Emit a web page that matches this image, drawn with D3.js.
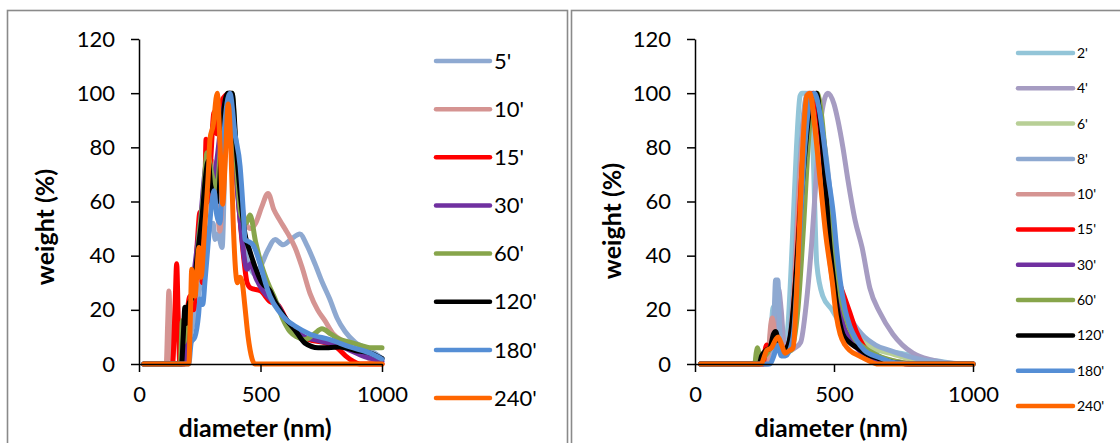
<!DOCTYPE html>
<html>
<head>
<meta charset="utf-8">
<script src="https://cdn.jsdelivr.net/npm/d3@7"></script>
<style>
  body { margin: 0; background: #fff; }
  svg { display: block; font-family: Lato, "Open Sans", sans-serif; }
</style>
</head>
<body>
<svg id="chart" width="1120" height="443"></svg>
<script>
// ---- data: diameter (nm), weight (%) ----
const leftSeries = ["5'", "10'", "15'", "30'", "60'", "120'", "180'", "240'"];
const leftColors = ["#8EA9D1", "#D59492", "#FF0000", "#7030A0", "#87A54B", "#000000", "#558ED5", "#FF6600"];

const l5 = [[20,0],[190,0],[210,10],[230,18],[250,28],[270,35],[290,50],[305,52],[313,46],[325,48],[342,43],[355,80],[366,100],[380,90],[400,70],[420,50],[440,40],[460,35],[477,33],[500,36],[530,42],[560,46],[593,44],[625,46],[662,48],[690,44],[724,37],[755,30],[785,24],[815,17],[848,12],[890,8],[930,6],[970,4],[1000,2]];
const l10 = [[20,0],[112,0],[118,15],[123,27],[130,10],[136,0],[185,0],[200,10],[215,20],[235,35],[260,55],[285,70],[300,75],[320,60],[333,49],[350,80],[374,100],[395,80],[420,60],[440,52],[457,50],[480,52],[505,58],[531,63],[555,57],[580,53],[600,50],[620,47],[642,43],[670,36],[704,26],[735,20],[765,16],[800,11],[848,8],[890,5],[930,3],[965,1],[1000,0]];
const l15 = [[20,0],[138,0],[148,20],[155,37],[162,15],[168,0],[185,0],[195,15],[210,25],[225,20],[240,45],[251,56],[260,30],[270,55],[276,83],[285,60],[295,75],[309,93],[320,85],[330,90],[345,98],[374,100],[390,85],[410,60],[430,40],[445,30],[460,28],[500,27],[540,23],[570,22],[609,16],[650,12],[700,9],[760,8],[815,6],[850,3],[881,1],[909,0],[1000,0]];
const l30 = [[20,0],[185,0],[200,15],[215,25],[235,40],[255,55],[270,70],[285,78],[300,65],[320,75],[340,90],[370,100],[385,95],[400,70],[420,50],[435,38],[445,35],[460,37],[480,32],[510,27],[540,24],[570,22],[600,17],[640,13],[680,10],[720,9],[770,8],[820,7],[870,5],[920,3],[960,2],[1000,1]];
const l60 = [[20,0],[170,0],[175,10],[178,16],[185,8],[195,15],[210,22],[230,30],[250,50],[265,62],[280,78],[290,75],[300,70],[320,65],[340,85],[360,96],[383,100],[400,75],[420,55],[440,52],[457,55],[480,45],[506,36],[530,30],[560,24],[590,17],[621,12],[650,10],[683,9],[720,11],[753,13],[790,11],[827,9],[870,8],[909,7],[950,6],[1000,6]];
const l120 = [[20,0],[175,0],[182,10],[189,21],[195,15],[205,22],[220,25],[240,40],[260,55],[275,70],[285,75],[295,66],[310,62],[325,60],[345,90],[365,100],[383,100],[400,80],[420,60],[436,48],[455,42],[477,36],[506,30],[539,27],[560,23],[580,20],[610,16],[642,12.5],[683,7.7],[737,6],[780,6],[827,6.3],[889,5],[951,4],[1000,2]];
const l180 = [[20,0],[205,0],[215,8],[230,10],[245,18],[251,24],[262,22],[272,31],[285,45],[300,60],[309,64],[320,55],[333,52],[350,85],[374,100],[395,85],[416,73],[430,55],[436,46],[455,45],[469,44],[498,37],[520,30],[539,25],[580,19],[610,16],[642,14],[704,11],[786,9],[868,6.3],[951,4],[1000,1.8]];
const l240 = [[20,0],[205,0],[212,20],[217,35],[230,25],[247,43],[255,32],[270,50],[285,70],[292,83],[305,88],[322,100],[334,80],[344,59],[355,75],[367,96],[378,80],[387,54],[398,34],[405,30],[416,32],[425,30],[435,22],[449,10],[465,2],[477,0],[1000,0]];

const rightSeries = ["2'", "4'", "6'", "8'", "10'", "15'", "30'", "60'", "120'", "180'", "240'"];
const rightColors = ["#93C5D8", "#A69CC2", "#B8CF96", "#8EA9D1", "#D59492", "#FF0000", "#7030A0", "#87A54B", "#000000", "#558ED5", "#FF6600"];

const r2 = [[20,0],[255,0],[265,5],[275,15],[281,21],[290,10],[300,6],[320,5],[335,15],[350,45],[365,80],[378,99],[385,100],[400,100],[412,95],[424,80],[438,37],[460,25],[493,20],[515,16],[540,12],[580,8],[630,5.5],[701,4.5],[763,3.5],[820,2],[880,1],[950,0],[1000,0]];
const r4 = [[20,0],[260,0],[275,5],[290,15],[300,28],[310,20],[320,8],[340,5],[360,6],[380,8],[400,22],[420,45],[438,72],[455,92],[478,100],[500,96],[514,90],[532,80],[550,68],[576,53],[601,43],[629,28],[665,19],[712,11],[784,4],[850,1.5],[920,0.3],[1000,0]];
const r6 = [[20,0],[250,0],[265,3],[285,8],[295,9],[310,6],[330,5],[350,10],[370,35],[390,70],[410,95],[425,100],[440,97],[460,82],[480,60],[500,42],[520,30],[545,20],[575,13],[610,8],[650,5.5],[700,4],[750,2.5],[820,1],[900,0],[1000,0]];
const r8 = [[20,0],[265,0],[275,8],[285,20],[290,31],[298,31],[305,12],[315,5],[330,5],[345,15],[360,40],[375,70],[390,92],[405,100],[420,100],[440,95],[460,85],[475,74],[493,56],[511,36],[530,25],[560,17],[600,11],[650,7],[700,5],[760,3],[820,1.5],[900,0.5],[1000,0]];
const r10 = [[20,0],[255,0],[265,5],[272,14],[278,17],[288,10],[300,6],[320,5],[340,8],[355,25],[375,65],[395,93],[410,100],[425,97],[445,80],[465,57],[485,38],[505,24],[530,14],[560,8],[600,5],[650,3],[720,1],[800,0],[1000,0]];
const r15 = [[20,0],[245,0],[252,5],[258,7],[265,5],[280,8],[290,10],[300,7],[315,5],[335,7],[350,15],[370,45],[390,80],[410,97],[425,100],[440,95],[460,77],[480,55],[500,40],[520,30],[540,24],[557,19],[580,12],[604,7],[650,3],[700,1],[780,0],[1000,0]];
const r30 = [[20,0],[235,0],[245,3],[258,5],[272,6],[284,10],[291,11],[300,7],[314,5],[332,6],[347,12],[367,35],[387,66],[407,89],[422,99],[436,100],[450,92],[468,70],[486,48],[504,30],[532,15],[568,8],[600,4],[640,2],[700,1],[780,0],[1000,0]];
const r60 = [[20,0],[215,0],[220,4],[225,6],[232,3],[240,2],[260,4],[280,8],[290,9],[300,6],[320,4],[345,5],[370,20],[390,50],[410,85],[425,99],[440,100],[455,92],[475,70],[495,48],[515,30],[540,18],[570,10],[610,6],[660,3],[720,1],[800,0],[1000,0]];
const r120 = [[20,0],[230,0],[240,3],[255,5],[270,6],[282,11],[290,12],[300,8],[312,5],[330,6],[345,12],[365,35],[385,65],[405,88],[420,99],[438,100],[450,90],[468,68],[486,43],[500,30],[511,21],[532,11],[555,8],[583,6],[620,3.5],[660,2],[720,0.5],[800,0],[1000,0]];
const r180 = [[20,0],[270,0],[280,2],[290,5],[298,7],[310,3],[325,3],[340,5],[355,12],[375,45],[395,80],[415,98],[430,100],[445,95],[460,85],[478,70],[497,56],[510,42],[522,31],[540,20],[557,14],[580,9],[610,5],[660,2.5],[720,0.5],[800,0],[1000,0]];
const r240 = [[20,0],[238,0],[250,3],[258,5],[275,6],[290,9],[299,10],[312,7],[324,4],[340,5],[353,6],[365,25],[378,56],[392,88],[402,99],[414,100],[428,90],[450,68],[470,48],[493,31],[508,18],[522,11],[540,7],[557,5],[590,3],[619,1.5],[660,0],[1000,0]];

const leftData = [l5, l10, l15, l30, l60, l120, l180, l240];
const rightData = [r2, r4, r6, r8, r10, r15, r30, r60, r120, r180, r240];

const xTicks = [0, 500, 1000];
const yTicks = [0, 20, 40, 60, 80, 100, 120];

const svg = d3.select('#chart');

function drawPanel(cfg) {
    // panel frame (bottom edge is cropped off)
    svg.append('rect')
        .attr('x', cfg.frameX).attr('y', 10.5)
        .attr('width', 560).attr('height', 460)
        .attr('fill', '#fff')
        .attr('stroke', '#8a8a8a')
        .attr('stroke-width', 1.6);

    const x = d3.scaleLinear().domain([0, 1000]).range(cfg.xRange);
    const y = d3.scaleLinear().domain([0, 120]).range([364, 39]);

    const g = svg.append('g');

    // axes
    const yAxis = d3.axisLeft(y).tickValues(yTicks).tickSize(8).tickSizeOuter(0).tickPadding(16);
    const xAxis = d3.axisBottom(x).tickValues(xTicks).tickFormat(d3.format('d'))
        .tickSize(8).tickSizeOuter(0).tickPadding(14);

    const line = d3.line()
        .x(d => x(d[0]))
        .y(d => y(d[1]))
        .curve(d3.curveMonotoneX);

    g.selectAll('.series')
        .data(cfg.data)
        .join('path')
        .attr('class', 'series')
        .attr('d', line)
        .attr('fill', 'none')
        .attr('stroke', (d, i) => cfg.colors[i])
        .attr('stroke-width', 5)
        .attr('stroke-linejoin', 'round')
        .attr('stroke-linecap', 'round');

    const yg = g.append('g').attr('transform', `translate(${cfg.xRange[0]},0)`).call(yAxis);
    const xg = g.append('g').attr('transform', `translate(0,${y(0)})`).call(xAxis);
    [yg, xg].forEach(a => {
        a.select('.domain').attr('stroke', '#000').attr('stroke-width', 1.5);
        a.selectAll('.tick line').attr('stroke', '#000').attr('stroke-width', 1.5);
        a.selectAll('.tick text')
            .attr('fill', '#000')
            .style('font-family', 'Lato, sans-serif')
            .style('font-size', '22px');
    });

    // axis titles
    svg.append('text')
        .attr('x', cfg.xTitleX).attr('y', 437)
        .attr('text-anchor', 'middle')
        .style('font-weight', 'bold')
        .style('font-size', '25px')
        .text('diameter (nm)');

    svg.append('text')
        .attr('transform', `translate(${cfg.yTitleX},${cfg.yTitleY}) rotate(-90)`)
        .attr('text-anchor', 'middle')
        .attr('dy', '0.35em')
        .style('font-weight', 'bold')
        .style('font-size', '25px')
        .text('weight (%)');

    // legend
    const lg = svg.append('g');
    cfg.names.forEach((name, i) => {
        const ly = cfg.legY0 + i * cfg.legStep;
        lg.append('line')
            .attr('x1', cfg.legX[0]).attr('x2', cfg.legX[1])
            .attr('y1', ly).attr('y2', ly)
            .attr('stroke', cfg.colors[i])
            .attr('stroke-width', 4.5)
            .attr('stroke-linecap', 'round');
        lg.append('text')
            .attr('x', cfg.legX[1] + 4).attr('y', ly)
            .attr('dy', '0.35em')
            .style('font-size', cfg.legFont + 'px')
            .text(name);
    });
}

drawPanel({
    frameX: 7.5, xRange: [139, 382], data: leftData, colors: leftColors, names: leftSeries,
    xTitleX: 255, yTitleX: 45, yTitleY: 227,
    legX: [436, 490], legY0: 61, legStep: 48.15, legFont: 22
});

drawPanel({
    frameX: 571.5, xRange: [695, 973], data: rightData, colors: rightColors, names: rightSeries,
    xTitleX: 831, yTitleX: 612, yTitleY: 221,
    legX: [1018, 1073], legY0: 53, legStep: 35.3, legFont: 14
});
</script>
</body>
</html>
